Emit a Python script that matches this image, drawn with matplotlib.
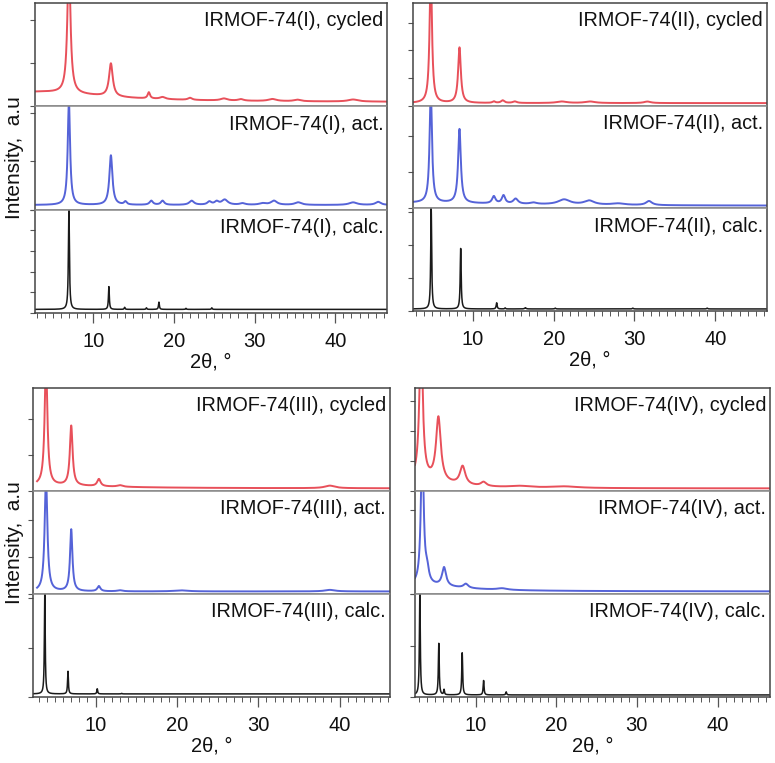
import numpy as np
import matplotlib
matplotlib.use("Agg")
from matplotlib import pyplot as plt
from matplotlib.ticker import MultipleLocator

plt.rcParams['font.family'] = ['Liberation Sans', 'DejaVu Sans']

# peaks: (2theta, height in % of strip, fwhm)
# heights are above the flat baseline; wide entries are the background hump
I_cycled_base = 4
I_cycled_peaks = [(3.0, 10, 20), (7.0, 130, 0.45), (12.2, 32, 0.55), (16.9, 6, 0.35),
                  (18.6, 2, 0.8), (22.0, 2, 0.6), (26.2, 2, 1.0), (28.3, 1.5, 0.8),
                  (32.2, 2, 1.2), (35.3, 1.5, 1.0), (42.2, 2, 1.5)]
I_act_base = 4.5
I_act_peaks = [(7.0, 100, 0.35), (12.2, 48, 0.45), (14.0, 3, 0.4), (17.2, 4, 0.5),
               (18.6, 4, 0.5), (22.2, 4, 0.7), (24.4, 3, 0.6), (25.3, 3, 0.6),
               (26.3, 5, 0.9), (28.5, 1.5, 0.8), (31.0, 1.5, 1.0), (32.4, 4, 0.9),
               (35.4, 2.5, 1.0), (42.2, 2.5, 1.2), (45.3, 3, 0.8)]
I_calc_base = 3.5
I_calc_peaks = [(7.0, 97, 0.15), (11.95, 22, 0.13), (13.9, 2, 0.12), (16.6, 1.5, 0.12),
                (18.15, 7, 0.13), (21.5, 1, 0.12), (24.7, 1.5, 0.12)]

II_cycled_base = 2.5
II_cycled_peaks = [(4.8, 130, 0.35), (8.35, 54, 0.4), (12.6, 1.5, 0.4), (13.7, 2.5, 0.5),
                   (15.2, 1.5, 0.6), (21.0, 1.5, 1.5), (24.5, 1.5, 1.5), (31.6, 1.5, 1.0)]
II_act_base = 2.5
II_act_peaks = [(3.0, 3, 25), (4.8, 110, 0.35), (8.35, 72, 0.4), (12.6, 7, 0.5),
                (13.8, 8, 0.5), (15.3, 5, 0.7), (17.5, 1.5, 1.0), (21.3, 5, 1.8),
                (24.4, 4, 1.5), (28.0, 1.5, 2.0), (31.8, 4, 0.9)]
II_calc_base = 2
II_calc_peaks = [(4.85, 99, 0.14), (8.5, 59, 0.14), (12.95, 6, 0.14), (14.0, 1, 0.12),
                 (16.5, 1.2, 0.2), (20.2, 0.8, 0.15), (29.8, 0.8, 0.15), (39.0, 0.8, 0.15)]

III_cycled_base = 2.5
III_cycled_peaks = [(3.0, 3, 20), (3.9, 120, 0.4), (7.0, 58, 0.4), (10.4, 7, 0.5),
                    (13.0, 1.5, 0.8), (38.8, 2.5, 1.5)]
III_act_base = 2.5
III_act_peaks = [(3.9, 110, 0.4), (7.0, 60, 0.35), (10.4, 5, 0.45), (13.0, 1, 0.8),
                 (20.5, 1, 2.0), (38.8, 1.5, 1.5)]
III_calc_base = 3
III_calc_peaks = [(3.75, 100, 0.12), (6.6, 22, 0.12), (10.2, 5, 0.12), (13.2, 0.5, 0.1)]

IV_cycled_base = 2.5
IV_cycled_peaks = [(3.0, 8, 8), (3.25, 140, 0.5), (5.4, 62, 0.7), (8.4, 18, 0.8),
                   (11.0, 4, 0.8), (15.5, 1.5, 3.0), (21.0, 1.5, 4.0)]
IV_act_base = 2.5
IV_act_peaks = [(3.0, 6, 12), (3.4, 140, 0.4), (4.0, 12, 0.5), (6.1, 18, 0.6),
                (8.8, 4, 0.7), (13.3, 1.5, 1.5)]
IV_calc_base = 2
IV_calc_peaks = [(3.1, 100, 0.13), (5.45, 50, 0.13), (6.1, 5, 0.12), (8.35, 41, 0.13),
                 (11.0, 14, 0.13), (13.8, 3, 0.13)]

names = ['I', 'II', 'III', 'IV']
xlims = [(2.8, 46.4), (2.6, 46.4), (2.3, 46.2), (2.5, 46.5)]
# first measured angle of the cycled / act. scans
x_start = [(2.8, 2.8), (2.6, 2.6), (2.8, 2.8), (2.5, 2.5)]
# y tick step of each strip (cycled, act., calc.)
ytick_steps = [(42, 47, 20), (27, 35, 32), (35, 36, 48), (29, 41, 50)]

curves = {
    'I': [(I_cycled_base, I_cycled_peaks), (I_act_base, I_act_peaks), (I_calc_base, I_calc_peaks)],
    'II': [(II_cycled_base, II_cycled_peaks), (II_act_base, II_act_peaks), (II_calc_base, II_calc_peaks)],
    'III': [(III_cycled_base, III_cycled_peaks), (III_act_base, III_act_peaks), (III_calc_base, III_calc_peaks)],
    'IV': [(IV_cycled_base, IV_cycled_peaks), (IV_act_base, IV_act_peaks), (IV_calc_base, IV_calc_peaks)],
}
kinds = ['cycled', 'act.', 'calc.']
colors = ['#e8505a', '#5563d8', '#1a1a1a']
widths = [1.4, 1.4, 1.1]

W, H = 775, 763
# panel boxes in pixels: left, top, right, bottom
boxes = [(35, 3, 387, 313), (413, 3, 767, 311), (33, 388, 390, 697), (415, 388, 770, 697)]


def pattern(x, base, peaks):
    y = np.full_like(x, float(base))
    for c, h, w in peaks:
        y += h / (1 + ((x - c) / (w / 2)) ** 2)
    return y


fig = plt.figure(figsize=(W / 100, H / 100), dpi=100)

for p, name in enumerate(names):
    l, t, r, b = boxes[p]
    sh = (b - t) / 3
    for k in range(3):
        top = t + k * sh
        ax = fig.add_axes([l / W, 1 - (top + sh) / H, (r - l) / W, sh / H])
        lo, hi = xlims[p]
        start = x_start[p][k] if k < 2 else lo
        x = np.linspace(start, hi, 5000)
        base, peaks = curves[name][k]
        ax.plot(x, pattern(x, base, peaks), color=colors[k], lw=widths[k])
        ax.set_xlim(lo, hi)
        ax.set_ylim(0, 100)
        step = ytick_steps[p][k]
        ax.set_yticks(np.arange(0, 100.1, step))
        ax.tick_params(axis='y', direction='out', length=3.5, width=0.8,
                       colors='#555', labelleft=False)
        for s in ax.spines.values():
            s.set_color('#444')
            s.set_linewidth(1.1)
        if k > 0:
            ax.spines['top'].set_color('#888')
        if k < 2:
            ax.spines['bottom'].set_color('#888')
            ax.set_xticks([])
        else:
            ax.xaxis.set_major_locator(MultipleLocator(10))
            ax.xaxis.set_minor_locator(MultipleLocator(1))
            ax.tick_params(axis='x', which='major', direction='out', length=7,
                           width=0.9, colors='#555', labelcolor='#111',
                           labelsize=14.5, pad=7)
            ax.tick_params(axis='x', which='minor', direction='out', length=3.5,
                           width=0.7, colors='#555')
            ax.set_xlabel('2θ, °', fontsize=14.5, color='#111', labelpad=1)
        ax.text(0.989, 0.92, 'IRMOF-74(%s), %s' % (name, kinds[k]),
                transform=ax.transAxes, ha='right', va='top',
                fontsize=14.3, color='#111')

    if p in (0, 2):
        fig.text(15 / W, 1 - ((t + b) / 2) / H, 'Intensity,  a.u', rotation=90,
                 ha='center', va='center', fontsize=15, color='#111')

fig.savefig('out.png', dpi=100)
